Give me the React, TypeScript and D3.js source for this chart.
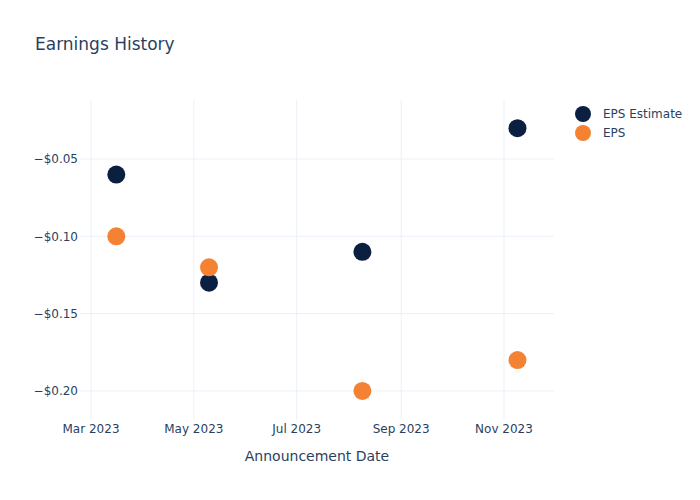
import React from "react";
import * as d3 from "d3";

const dates = ["2023-03-16", "2023-05-10", "2023-08-09", "2023-11-09"];
const epsEstimate = [-0.06, -0.13, -0.11, -0.03];
const eps = [-0.1, -0.12, -0.2, -0.18];
const yTicks = [-0.05, -0.1, -0.15, -0.2];
const xTicks = ["2023-03-01", "2023-05-01", "2023-07-01", "2023-09-01", "2023-11-01"];
const seriesNames = ["EPS Estimate", "EPS"];

const W = 700, H = 500;
const L = 80, R = 554, T = 100, B = 420;
const font = "'DejaVu Sans', Verdana, sans-serif";
const textColor = "#2a3f5f";
const gridColor = "#ebf0f8";
const colors = ["#0b1f41", "#f58233"];

const parse = d3.utcParse("%Y-%m-%d");

export default function App() {
  const x = d3
    .scaleUtc()
    .domain([new Date(Date.UTC(2023, 1, 22, 11)), new Date(Date.UTC(2023, 10, 30, 16))])
    .range([L, R]);
  const y = d3.scaleLinear().domain([-0.2188, -0.0118]).range([B, T]);
  const fmt = (v: number) => "\u2212$" + Math.abs(v).toFixed(2);
  const mfmt = d3.utcFormat("%b %Y");
  const series = [epsEstimate, eps];

  return (
    <svg width={W} height={H} style={{ position: "absolute", left: 0, top: 0, background: "#fff" }}>
      <rect width={W} height={H} fill="#fff" />
      <text x={35} y={50} fontFamily={font} fontSize={17} fill={textColor}>Earnings History</text>
      {xTicks.map((t) => {
        const d = parse(t)!;
        return (
          <g key={t}>
            <line x1={x(d)} x2={x(d)} y1={T} y2={B} stroke={gridColor} strokeWidth={1} />
            <text x={x(d)} y={433} textAnchor="middle" fontFamily={font} fontSize={12} fill={textColor}>{mfmt(d)}</text>
          </g>
        );
      })}
      {yTicks.map((t) => (
        <g key={t}>
          <line x1={L} x2={R} y1={y(t)} y2={y(t)} stroke={gridColor} strokeWidth={1} />
          <text x={78} y={y(t)} dy="0.35em" textAnchor="end" fontFamily={font} fontSize={12} fill={textColor}>{fmt(t)}</text>
        </g>
      ))}
      <text x={(L + R) / 2} y={461} textAnchor="middle" fontFamily={font} fontSize={14} fill={textColor}>Announcement Date</text>
      {series.map((s, si) =>
        s.map((v, i) => (
          <circle key={si + "-" + i} cx={x(parse(dates[i])!)} cy={y(v)} r={9} fill={colors[si]} />
        ))
      )}
      {seriesNames.map((n, i) => (
        <g key={n} transform={`translate(0, ${114 + i * 19})`}>
          <circle cx={583} cy={0} r={8} fill={colors[i]} />
          <text x={603} y={0} dy="0.35em" fontFamily={font} fontSize={12} fill={textColor}>{n}</text>
        </g>
      ))}
    </svg>
  );
}
